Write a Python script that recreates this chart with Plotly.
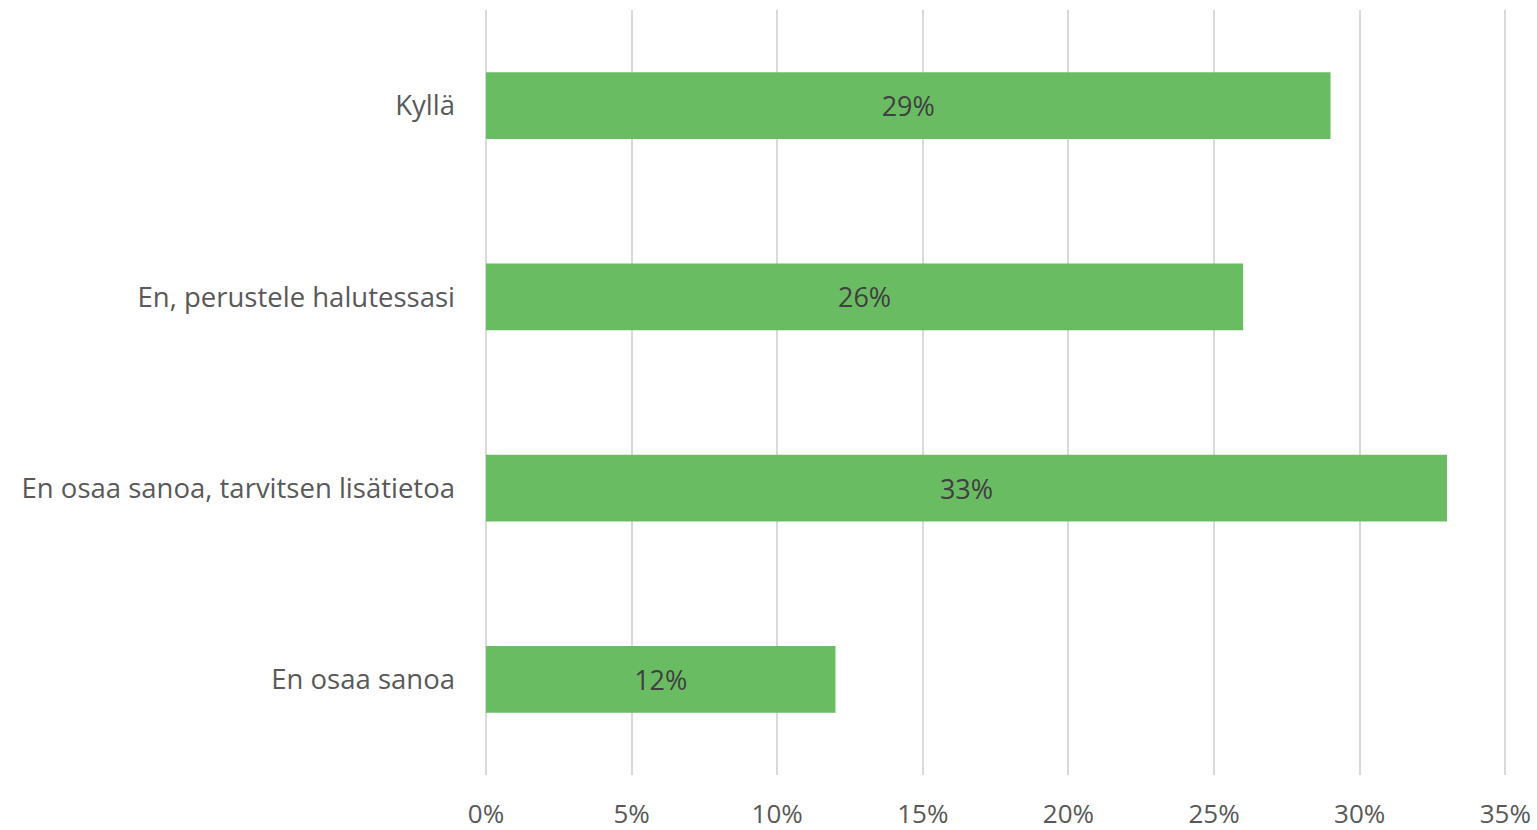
import plotly.graph_objects as go

categories = ["Kyllä", "En, perustele halutessasi", "En osaa sanoa, tarvitsen lisätietoa", "En osaa sanoa"]
values = [29, 26, 33, 12]
tick_vals = [0, 5, 10, 15, 20, 25, 30, 35]
tick_text = ["0%", "5%", "10%", "15%", "20%", "25%", "30%", "35%"]

FONT = "Open Sans"

fig = go.Figure(go.Bar(
    y=categories,
    x=values,
    orientation="h",
    marker=dict(color="#6abc63", line=dict(width=0)),
    width=0.35,
    text=[f"{v}%" for v in values],
    textposition="inside",
    insidetextanchor="middle",
    textfont=dict(family=FONT, size=27, color="#404040"),
    hoverinfo="skip",
))

fig.update_layout(
    width=1537,
    height=830,
    margin=dict(l=486, r=23, t=10, b=55, autoexpand=False),
    paper_bgcolor="white",
    plot_bgcolor="white",
    showlegend=False,
    uniformtext=dict(mode="show", minsize=10),
    xaxis=dict(
        range=[0, 35.3],
        tickvals=tick_vals,
        ticktext=tick_text,
        showgrid=True,
        gridcolor="#d9d9d9",
        gridwidth=2,
        zeroline=True,
        zerolinecolor="#d9d9d9",
        zerolinewidth=2,
        showline=False,
        ticks="",
        automargin=False,
        ticklabelstandoff=21,
        tickfont=dict(family=FONT, size=26, color="#595959"),
        fixedrange=True,
    ),
    yaxis=dict(
        categoryorder="array",
        categoryarray=categories,
        autorange="reversed",
        showgrid=False,
        zeroline=False,
        showline=False,
        ticks="",
        automargin=False,
        ticklabelstandoff=30,
        tickfont=dict(family=FONT, size=27.5, color="#595959"),
        fixedrange=True,
    ),
)

fig.write_html(
    "out.html",
    config={"displayModeBar": False, "staticPlot": True},
    post_script="document.body.style.margin='0';document.body.style.overflow='hidden';",
)
